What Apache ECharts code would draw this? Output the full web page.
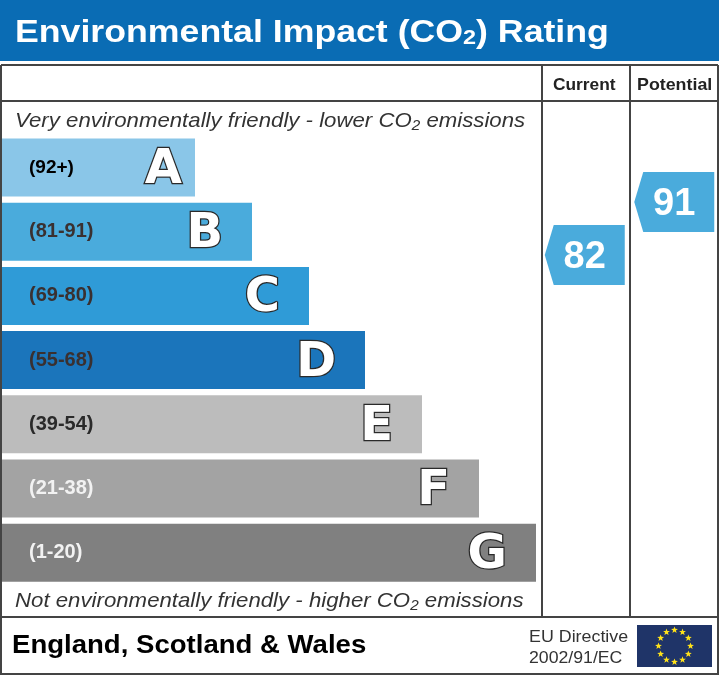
<!DOCTYPE html>
<html><head><meta charset="utf-8">
<style>html,body{margin:0;padding:0;background:#fff}#c{width:719px;height:675px}</style>
<script src="https://cdn.jsdelivr.net/npm/echarts@6/dist/echarts.min.js"></script>
</head><body><div id="c"></div>
<script>
const bandLetters = ['A','B','C','D','E','F','G'];
const bandRanges = ['(92+)','(81-91)','(69-80)','(55-68)','(39-54)','(21-38)','(1-20)'];
const bandLengths = [193,250,307,363,420,477,534];
const bandColors = ['#8ac6e8','#4aabdc','#2f9bd7','#1b75bb','#bcbcbc','#a3a3a3','#808080'];
const rangeColors = ['#000000','#3a3030','#3a3030','#3a3030','#2a2a2a','#f2f2f2','#f2f2f2'];
const ratingLabels = ['Current','Potential'];
const ratingValues = [82,91];
const titleParts = ['Environmental Impact (CO','2',') Rating'];
const topNote = 'Very environmentally friendly - lower CO₂ emissions';
const bottomNote = 'Not environmentally friendly - higher CO₂ emissions';
const regionText = 'England, Scotland & Wales';
const directiveLines = ['EU Directive','2002/91/EC'];

const FONT = '"Liberation Sans", Arial, sans-serif';
const LINE = '#444444';
const hLine = (y,x1=1,x2=718)=>({type:'line',z:5,shape:{x1,y1:y,x2,y2:y},style:{stroke:LINE,lineWidth:2}});
const vLine = (x,y1,y2)=>({type:'line',z:5,shape:{x1:x,y1,x2:x,y2},style:{stroke:LINE,lineWidth:2}});
const text = (t,x,y,size,o={})=>({type:'text',z:6,x,y,scaleX:o.sx||1,style:{text:t,x:0,y:0,fill:o.fill||'#333',
  font:`${o.style||'normal'} ${o.weight||'normal'} ${size}px ${FONT}`,textVerticalAlign:'middle',textAlign:o.align||'left'}});
function starPoints(cx,cy,R,r){const p=[];for(let i=0;i<10;i++){const a=-Math.PI/2+i*Math.PI/5,d=i%2?r:R;p.push([cx+d*Math.cos(a),cy+d*Math.sin(a)]);}return p;}
const flag=[{type:'rect',z:5,shape:{x:637,y:625,width:75,height:42},style:{fill:'#1f3468'}}];
for(let i=0;i<12;i++){const a=i*Math.PI/6;
  flag.push({type:'polygon',z:6,shape:{points:starPoints(674.5+16*Math.sin(a),646-16*Math.cos(a),3.6,1.5)},style:{fill:'#ffe21a'}});}

const chart = echarts.init(document.getElementById('c'),null,{renderer:'canvas'});
chart.setOption({
  animation:false,
  backgroundColor:'#ffffff',
  grid:[{left:2,top:135.4,width:717,height:449.4},
        {left:540,top:102,width:181,height:515}],
  xAxis:[{gridIndex:0,type:'value',min:0,max:717,show:false},
         {gridIndex:1,type:'category',data:ratingLabels,show:false}],
  yAxis:[{gridIndex:0,type:'category',data:bandLetters,inverse:true,show:false},
         {gridIndex:1,type:'value',min:20.5,max:108,show:false}],
  series:[
    {type:'bar',xAxisIndex:0,yAxisIndex:0,barWidth:58,barGap:'-100%',
     data:bandLengths.map((v,i)=>({value:v,itemStyle:{color:bandColors[i]},
       label:{show:true,position:'insideLeft',distance:27,formatter:bandRanges[i],color:rangeColors[i],
              fontFamily:FONT,fontWeight:'bold',fontSize:i===0?19:20}}))},
    {type:'bar',xAxisIndex:0,yAxisIndex:0,barWidth:58,barGap:'-100%',itemStyle:{color:'transparent'},
     data:bandLengths.map((v,i)=>({value:v,
       label:{show:true,position:'insideRight',distance:i===0?13:29,offset:[0,3],formatter:bandLetters[i],color:'#ffffff',
              fontFamily:'"DejaVu Sans", sans-serif',fontWeight:'bold',fontSize:48,textBorderColor:'#2a2a2a',textBorderWidth:2.5}}))},
    {type:'scatter',xAxisIndex:1,yAxisIndex:1,
     symbol:'path://M0 30 L9 0 L80 0 L80 60 L9 60 Z',symbolSize:[80,60],
     itemStyle:{color:'#4aabdc',opacity:1},
     label:{show:true,position:'inside',offset:[0,2],color:'#fff',fontFamily:FONT,fontWeight:'bold',fontSize:38,formatter:p=>String(p.value[1])},
     data:ratingLabels.map((c,i)=>[c,ratingValues[i]])}
  ],
  graphic:[
    {type:'rect',z:4,shape:{x:0,y:0,width:719,height:61},style:{fill:'#0a6cb4'}},
    {type:'text',z:6,x:15,y:33,scaleX:1.115,style:{
      text:`{a|${titleParts[0]}}{s|${titleParts[1]}}{a|${titleParts[2]}}`,
      textVerticalAlign:'middle',
      rich:{a:{fill:'#fff',font:`bold 32px ${FONT}`},
            s:{fill:'#fff',font:`bold 21px ${FONT}`,verticalAlign:'bottom'}}}},
    hLine(65),hLine(101),hLine(617),hLine(674),
    vLine(1,65,675),vLine(718,65,675),vLine(542,65,617),vLine(630,65,617),
    text(ratingLabels[0],553,85,16.5,{weight:'bold',fill:'#222',sx:1.05}),
    text(ratingLabels[1],637,85,16.5,{weight:'bold',fill:'#222',sx:1.08}),
    text(topNote,15,121,21,{style:'italic',sx:1.058}),
    text(bottomNote,15,601,21,{style:'italic',sx:1.058}),
    text(regionText,12,646,26,{weight:'bold',fill:'#000',sx:1.06}),
    text(directiveLines[0],529,637,17,{sx:1.05}),
    text(directiveLines[1],529,658,17,{sx:1.04}),
    ...flag
  ]
});
</script></body></html>
